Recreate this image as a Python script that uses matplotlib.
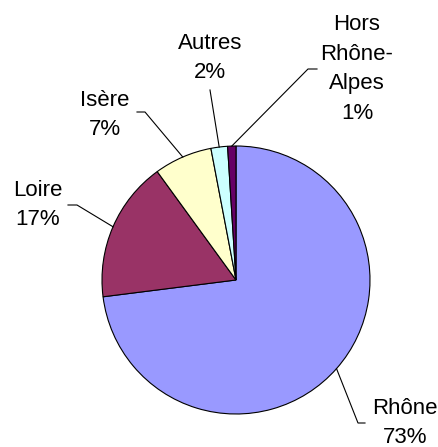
import numpy as np
import matplotlib
matplotlib.use("Agg")
import matplotlib.pyplot as plt

regions = ["Rhône", "Loire", "Isère", "Autres", "Hors\nRhône-\nAlpes"]
shares = [73, 17, 7, 2, 1]
colors = ["#9999FF", "#993366", "#FFFFCC", "#CCFFFF", "#660066"]

CX, CY, R = 236, 280, 134


def px(x, y):
    # pixel (from top-left) -> data coords
    return (x - CX) / R, (CY - y) / R


fig = plt.figure(figsize=(4.39, 4.47), dpi=100)
ax = fig.add_axes([0, 0, 1, 1])

wedges, _ = ax.pie(shares, colors=colors, startangle=90, counterclock=False,
                   radius=1, wedgeprops=dict(edgecolor="black", linewidth=0.8))

ax.set_xlim(-CX / R, (439 - CX) / R)
ax.set_ylim(-(447 - CY) / R, CY / R)
ax.set_aspect("equal")
ax.axis("off")

# label text centre, knee of leader, end of horizontal tick (pixels)
label_pos = [(405, 423), (38, 205), (105, 115), (210, 58), (357, 69)]
knees = [((358, 423), (365, 423)), ((77, 205), (68, 205)),
         ((145, 112), (137, 112)), ((210, 90), (210, 90)),
         ((308, 69), (317, 69))]

for w, name, s, pos, (k1, k2) in zip(wedges, regions, shares, label_pos, knees):
    mid = np.deg2rad((w.theta1 + w.theta2) / 2)
    x0, y0 = np.cos(mid), np.sin(mid)
    p1, p2 = px(*k1), px(*k2)
    ax.plot([x0, p1[0], p2[0]], [y0, p1[1], p2[1]], color="black", lw=0.8)
    tx, ty = px(*pos)
    ax.text(tx, ty, f"{name}\n{s}%", ha="center", va="center",
            fontsize=16, family="Liberation Sans", linespacing=1.55)

fig.savefig("out.png", dpi=100)
